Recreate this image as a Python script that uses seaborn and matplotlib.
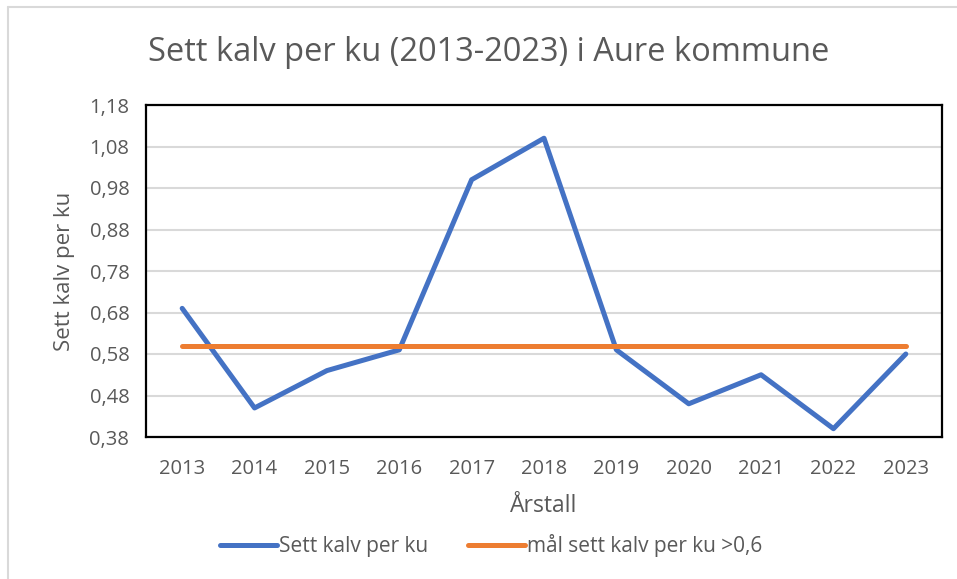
import matplotlib
matplotlib.use("Agg")
import matplotlib.pyplot as plt
import seaborn as sns
import pandas as pd
from matplotlib.lines import Line2D
from matplotlib.ticker import FuncFormatter

# data
years = [2013, 2014, 2015, 2016, 2017, 2018, 2019, 2020, 2021, 2022, 2023]
kalv_per_ku = [0.69, 0.45, 0.54, 0.59, 1.00, 1.10, 0.59, 0.46, 0.53, 0.40, 0.58]
maal = [0.6] * len(years)
y_ticks = [0.38, 0.48, 0.58, 0.68, 0.78, 0.88, 0.98, 1.08, 1.18]

series_names = ["Sett kalv per ku", "mål sett kalv per ku >0,6"]
colors = ["#4472C4", "#ED7D31"]
grey = "#595959"

sns.set_style("white")
plt.rcParams["font.family"] = ["Open Sans", "DejaVu Sans"]

df = pd.DataFrame({
    "Årstall": years * 2,
    "verdi": kalv_per_ku + maal,
    "serie": [series_names[0]] * len(years) + [series_names[1]] * len(years),
})

fig = plt.figure(figsize=(9.57, 5.79), dpi=100)
ax = fig.add_axes([146 / 957, 1 - 437 / 579, (942 - 146) / 957, (437 - 105) / 579])

sns.lineplot(data=df, x="Årstall", y="verdi", hue="serie", palette=colors,
             linewidth=3.6, ax=ax, legend=False, solid_capstyle="round")

ax.set_xlim(2012.5, 2023.5)
ax.set_ylim(0.38, 1.18)
ax.set_xticks(years)
ax.set_yticks(y_ticks)
ax.yaxis.set_major_formatter(FuncFormatter(lambda v, p: f"{v:.2f}".replace(".", ",")))
ax.grid(axis="y", color="#D9D9D9", linewidth=1.5)
ax.set_axisbelow(True)
for s in ax.spines.values():
    s.set_visible(True)
    s.set_color("black")
    s.set_linewidth(1.6)
ax.tick_params(length=0, labelsize=14.5, colors=grey)
ax.tick_params(axis="x", pad=16)
ax.tick_params(axis="y", pad=12)
ax.set_xlabel("Årstall", fontsize=16.5, color=grey, labelpad=11)
ax.set_ylabel("Sett kalv per ku", fontsize=16, color=grey, labelpad=10)

fig.text(0.511, 0.910, "Sett kalv per ku (2013-2023) i Aure kommune",
         ha="center", va="center", fontsize=23.5, color=grey)

handles = [Line2D([], [], color=c, linewidth=3.6, solid_capstyle="round") for c in colors]
fig.legend(handles, series_names, loc="center", bbox_to_anchor=(0.513, 0.057),
           ncol=2, frameon=False, fontsize=15, labelcolor=grey,
           handlelength=2.75, handletextpad=0.1, columnspacing=1.9)

# outer chart border (top and left only, as in the cropped screenshot)
fig.add_artist(Line2D([8 / 957, 8 / 957], [0, 1 - 7 / 579], color="#D9D9D9", linewidth=1.5))
fig.add_artist(Line2D([8 / 957, 1], [1 - 7 / 579, 1 - 7 / 579], color="#D9D9D9", linewidth=1.5))

fig.savefig("out.png", dpi=100)
